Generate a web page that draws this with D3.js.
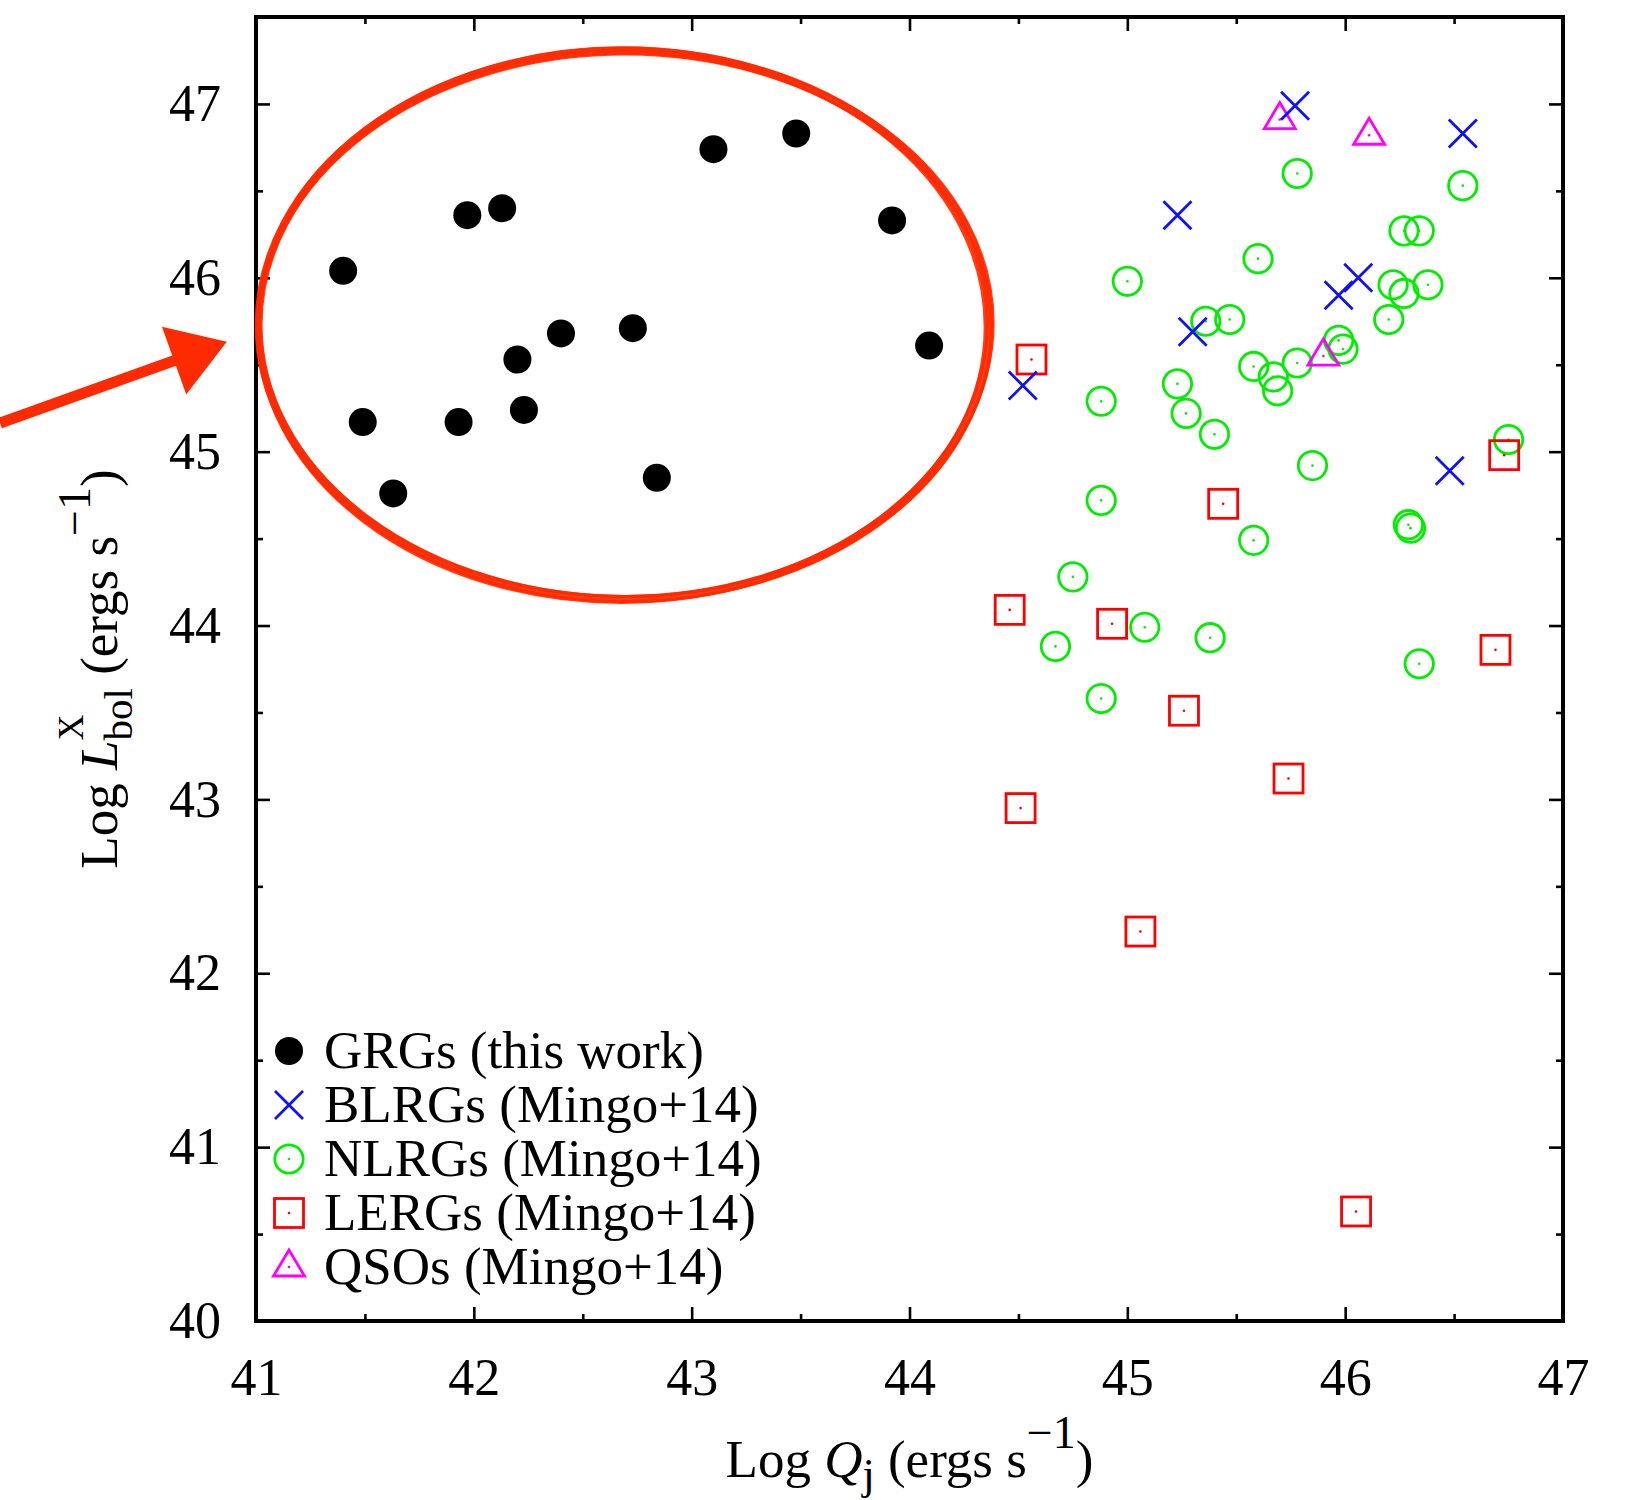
<!DOCTYPE html>
<html>
<head>
<meta charset="utf-8" />
<title>GRGs vs Mingo+14</title>
<style>
  body { margin: 0; background: #ffffff; }
  svg { display: block; }
  text { font-family: "Liberation Serif", "Times New Roman", serif; fill: #000; }
</style>
</head>
<body>
<div id="chart"></div>
<script src="https://cdn.jsdelivr.net/npm/d3@7/dist/d3.min.js"></script>
<script>
// ---- data ----
var grgX = [41.40, 41.97, 42.13, 43.10, 43.48, 43.92, 44.09, 42.73, 42.40, 42.20, 42.23, 41.93, 41.49, 41.63, 42.84];
var grgY = [46.04, 46.36, 46.40, 46.74, 46.83, 46.33, 45.61, 45.71, 45.68, 45.53, 45.24, 45.17, 45.17, 44.76, 44.85];

var blrgX = [45.77, 46.54, 45.23, 45.97, 46.06, 45.30, 44.52, 46.48];
var blrgY = [46.99, 46.83, 46.36, 45.90, 46.00, 45.69, 45.38, 44.89];

var nlrgX = [45.78, 46.54, 46.27, 46.34, 45.60, 45.00, 46.22, 46.38, 46.27, 46.20, 45.36, 45.47,
             45.97, 45.99, 45.58, 45.78, 45.67, 45.69, 45.23, 44.88, 45.27, 45.40, 46.75, 45.85,
             44.88, 46.29, 46.30, 45.58, 44.75, 44.67, 45.08, 45.38, 46.34, 44.88];
var nlrgY = [46.60, 46.53, 46.27, 46.27, 46.11, 45.98, 45.96, 45.96, 45.91, 45.76, 45.75, 45.76,
             45.64, 45.59, 45.49, 45.51, 45.43, 45.35, 45.39, 45.29, 45.22, 45.10, 45.07, 44.92,
             44.72, 44.58, 44.56, 44.49, 44.28, 43.88, 43.99, 43.93, 43.78, 43.58];

var lergX = [44.56, 45.44, 46.73, 44.46, 44.93, 46.69, 45.26, 45.74, 44.51, 45.06, 46.05];
var lergY = [45.53, 44.70, 44.98, 44.09, 44.01, 43.86, 43.51, 43.12, 42.95, 42.24, 40.63];

var qsoX = [45.70, 46.11, 45.90];
var qsoY = [46.91, 46.82, 45.55];

var legendLabels = ["GRGs (this work)", "BLRGs (Mingo+14)", "NLRGs (Mingo+14)", "LERGs (Mingo+14)", "QSOs (Mingo+14)"];
var markerTypes = ["dot", "cross", "circ", "square", "tri"];

var xTicks = [41, 42, 43, 44, 45, 46, 47];
var yTicks = [40, 41, 42, 43, 44, 45, 46, 47];
var xMinor = [41.5, 42.5, 43.5, 44.5, 45.5, 46.5];
var yMinor = [40.5, 41.5, 42.5, 43.5, 44.5, 45.5, 46.5, 47.5];

// hand drawn annotation: ellipse around the GRGs and an arrow pointing at it (data units)
var ringCenter = [42.69, 45.73];
var ringRadii = [1.678, 1.577];
var arrowTail = [39.825, 45.165];
var arrowTip = [40.866, 45.632];

function draw() {
  var width = 1625, height = 1500;
  var plotL = 256, plotR = 1563, plotT = 17, plotB = 1321;

  var svg = d3.select("#chart").append("svg")
    .attr("width", width).attr("height", height)
    .attr("viewBox", "0 0 " + width + " " + height);
  svg.append("rect").attr("width", width).attr("height", height).attr("fill", "#fff");

  var x = d3.scaleLinear().domain([41, 47]).range([plotL, plotR]);
  var y = d3.scaleLinear().domain([40, 47.5]).range([plotB, plotT]);

  function zip(xs, ys) {
    return xs.map(function(v, i) { return [v, ys[i]]; });
  }

  // ---- axes (ticks inward on all four sides) ----
  function styleAxis(g) {
    g.select(".domain").remove();
    g.selectAll(".tick line").attr("stroke", "#000").attr("stroke-width", 2.6);
    g.selectAll(".tick text").attr("font-size", 52).attr("font-family", "Liberation Serif, serif").attr("fill", "#000");
  }

  svg.append("g").attr("transform", "translate(0," + plotB + ")")
    .call(d3.axisBottom(x).tickValues(xTicks).tickSize(-14).tickPadding(37).tickFormat(d3.format("d")))
    .call(styleAxis);
  svg.append("g").attr("transform", "translate(0," + plotB + ")")
    .call(d3.axisBottom(x).tickValues(xMinor).tickSize(-7).tickFormat(""))
    .call(styleAxis);
  svg.append("g").attr("transform", "translate(0," + plotT + ")")
    .call(d3.axisTop(x).tickValues(xTicks).tickSize(-14).tickFormat(""))
    .call(styleAxis);
  svg.append("g").attr("transform", "translate(0," + plotT + ")")
    .call(d3.axisTop(x).tickValues(xMinor).tickSize(-7).tickFormat(""))
    .call(styleAxis);

  svg.append("g").attr("transform", "translate(" + plotL + ",0)")
    .call(d3.axisLeft(y).tickValues(yTicks).tickSize(-14).tickPadding(35).tickFormat(d3.format("d")))
    .call(styleAxis);
  svg.append("g").attr("transform", "translate(" + plotL + ",0)")
    .call(d3.axisLeft(y).tickValues(yMinor).tickSize(-7).tickFormat(""))
    .call(styleAxis);
  svg.append("g").attr("transform", "translate(" + plotR + ",0)")
    .call(d3.axisRight(y).tickValues(yTicks).tickSize(-14).tickFormat(""))
    .call(styleAxis);
  svg.append("g").attr("transform", "translate(" + plotR + ",0)")
    .call(d3.axisRight(y).tickValues(yMinor).tickSize(-7).tickFormat(""))
    .call(styleAxis);

  svg.append("rect")
    .attr("x", plotL).attr("y", plotT)
    .attr("width", plotR - plotL).attr("height", plotB - plotT)
    .attr("fill", "none").attr("stroke", "#000").attr("stroke-width", 4);

  // ---- markers ----
  var colors = { dot: "#000000", cross: "#1010ff", circ: "#00ee00", square: "#ff0000", tri: "#ff00ff" };

  function drawMarker(g, type) {
    var c = colors[type];
    if (type == "dot") {
      g.append("circle").attr("r", 14).attr("fill", c);
      return;
    }
    if (type == "cross") {
      g.append("path").attr("d", "M-14,-14L14,14M-14,14L14,-14")
        .attr("stroke", c).attr("stroke-width", 2.8).attr("fill", "none");
      return;
    }
    if (type == "circ") {
      g.append("circle").attr("r", 14.2).attr("fill", "none").attr("stroke", c).attr("stroke-width", 2.8);
    } else if (type == "square") {
      g.append("rect").attr("x", -14.5).attr("y", -14.5).attr("width", 29).attr("height", 29)
        .attr("fill", "none").attr("stroke", c).attr("stroke-width", 2.8);
    } else if (type == "tri") {
      g.append("path").attr("d", "M0,-17L15.5,9L-15.5,9Z")
        .attr("fill", "none").attr("stroke", c).attr("stroke-width", 2.8);
    }
    g.append("circle").attr("r", 1.3).attr("fill", c);
  }

  var series = [
    { type: "circ", pts: zip(nlrgX, nlrgY) },
    { type: "square", pts: zip(lergX, lergY) },
    { type: "tri", pts: zip(qsoX, qsoY) },
    { type: "cross", pts: zip(blrgX, blrgY) },
    { type: "dot", pts: zip(grgX, grgY) }
  ];

  series.forEach(function(s) {
    svg.append("g").selectAll("g").data(s.pts).enter().append("g")
      .attr("transform", function(d) { return "translate(" + x(d[0]) + "," + y(d[1]) + ")"; })
      .each(function() { drawMarker(d3.select(this), s.type); });
  });

  // ---- legend ----
  var legend = svg.append("g");
  legendLabels.forEach(function(lab, i) {
    var row = legend.append("g").attr("transform", "translate(289," + (1051 + i * 54) + ")");
    drawMarker(row, markerTypes[i]);
    row.append("text").attr("x", 35).attr("y", 17).attr("font-size", 53).text(lab);
  });

  // ---- axis titles with sub/superscripts ----
  function richText(g, parts) {
    var cursor = 0;
    parts.forEach(function(p) {
      var t = g.append("text")
        .attr("x", cursor).attr("y", p.dy || 0)
        .attr("font-size", p.size)
        .attr("font-style", p.italic ? "italic" : "normal")
        .style("white-space", "pre")
        .text(p.t);
      var w = t.node().getComputedTextLength();
      if (!p.stack) cursor += w;
    });
    g.selectAll("text").attr("x", function() { return +d3.select(this).attr("x") - cursor / 2; });
  }

  var xTitle = svg.append("g").attr("transform", "translate(" + ((plotL + plotR) / 2) + ",1477)");
  richText(xTitle, [
    { t: "Log ", size: 53 },
    { t: "Q", size: 53, italic: true },
    { t: "j", size: 44, dy: 12 },
    { t: " (ergs s", size: 53 },
    { t: "\u22121", size: 46, dy: -29 },
    { t: ")", size: 53 }
  ]);

  var yTitle = svg.append("g").attr("transform", "translate(117," + ((plotT + plotB) / 2) + ") rotate(-90)");
  richText(yTitle, [
    { t: "Log ", size: 53 },
    { t: "L", size: 53, italic: true },
    { t: "X", size: 36, dy: -34, stack: true },
    { t: "bol", size: 41, dy: 15 },
    { t: " (ergs s", size: 53 },
    { t: "\u22121", size: 46, dy: -27 },
    { t: ")", size: 53 }
  ]);

  // ---- red annotation (a few offset strokes for the hand-drawn look) ----
  var ann = svg.append("g").attr("fill", "none").attr("stroke", "#ff2a00");
  var cx = x(ringCenter[0]), cy = y(ringCenter[1]);
  var rx = x(ringCenter[0] + ringRadii[0]) - cx, ry = cy - y(ringCenter[1] + ringRadii[1]);
  [[0, 0, 8, 0], [2.5, -1.5, 3, 1], [-3, 2, 3, -1.5], [1, 3, 3, 0.5], [-1.5, -2.5, 2.5, -0.5]].forEach(function(o) {
    ann.append("ellipse")
      .attr("cx", cx + o[0]).attr("cy", cy + o[1])
      .attr("rx", rx + o[3]).attr("ry", ry - o[3])
      .attr("stroke-width", o[2]).attr("stroke-opacity", 0.9);
  });

  var tx = x(arrowTail[0]), ty = y(arrowTail[1]);
  var hx = x(arrowTip[0]), hy = y(arrowTip[1]);
  var ang = Math.atan2(hy - ty, hx - tx);
  var headLen = 56, headHalf = 36;
  var bx = hx - headLen * Math.cos(ang), by = hy - headLen * Math.sin(ang);
  ann.append("line")
    .attr("x1", tx).attr("y1", ty).attr("x2", bx + 6 * Math.cos(ang)).attr("y2", by + 6 * Math.sin(ang))
    .attr("stroke-width", 11);
  ann.append("path")
    .attr("d", "M" + hx + "," + hy +
      "L" + (bx + headHalf * Math.sin(ang)) + "," + (by - headHalf * Math.cos(ang)) +
      "L" + (bx - headHalf * Math.sin(ang)) + "," + (by + headHalf * Math.cos(ang)) + "Z")
    .attr("fill", "#ff2a00").attr("stroke", "none");
}

draw();
</script>
</body>
</html>
